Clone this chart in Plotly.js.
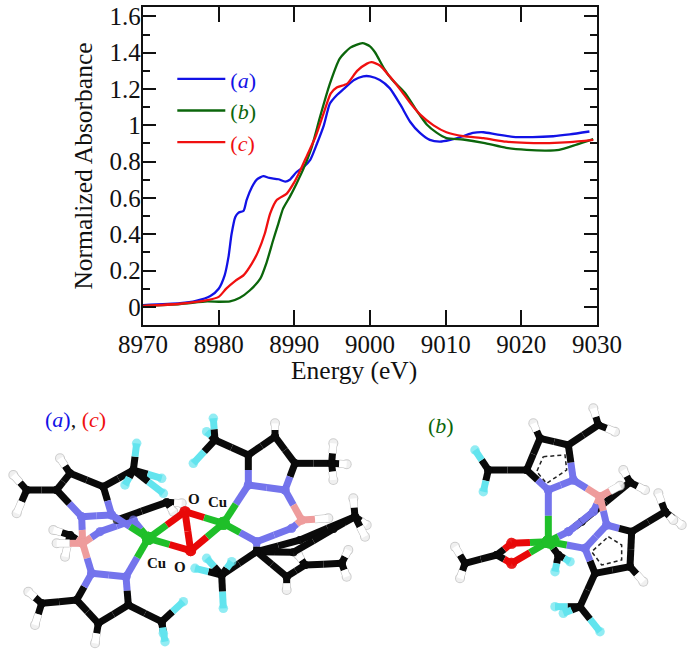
<!DOCTYPE html>
<html><head><meta charset="utf-8">
<script src="https://cdn.plot.ly/plotly-3.0.1.min.js"></script>
<style>html,body{margin:0;padding:0;background:#fff}</style></head>
<body><div id="chart" style="width:692px;height:653px"></div>
<script>
const energyA=[8970,8974.9,8977,8978.9,8980,8980.8,8981.3,8981.7,8982.2,8982.6,8983.3,8983.7,8984.4,8985,8985.9,8986.7,8987.9,8988.8,8989.4,8990.3,8991.2,8992.1,8993,8993.9,8994.7,8995.6,8996.5,8997.9,8999.1,9000,9001.3,9002.6,9004,9005.3,9006.6,9007.9,9009.2,9010.5,9012.3,9013.6,9015,9016.7,9018.9,9021.5,9024.2,9026.4,9029];
const absorbA=[0.01,0.02,0.033,0.06,0.1,0.175,0.275,0.4,0.495,0.518,0.53,0.59,0.66,0.7,0.72,0.71,0.703,0.69,0.7,0.743,0.77,0.81,0.9,1,1.12,1.166,1.2,1.25,1.27,1.27,1.25,1.205,1.115,1.02,0.958,0.92,0.91,0.918,0.94,0.958,0.962,0.95,0.937,0.935,0.94,0.95,0.966];
const energyB=[8970,8974.9,8978.5,8980,8981.5,8982.8,8984.1,8985.5,8986.3,8987.2,8987.9,8988.5,8989.4,8990.3,8991.2,8992.3,8993.4,8994.7,8996,8997.4,8999,9000,9000.7,9001.8,9002.9,9004.6,9006.2,9007.5,9008.8,9010.1,9012.3,9015,9018,9020.7,9023.3,9025,9027.3,9029.5];
const absorbB=[0.005,0.015,0.03,0.028,0.03,0.05,0.09,0.155,0.24,0.367,0.46,0.54,0.606,0.68,0.76,0.88,1.047,1.23,1.368,1.428,1.453,1.435,1.4,1.317,1.252,1.18,1.08,1.005,0.96,0.93,0.922,0.904,0.876,0.865,0.861,0.865,0.894,0.924];
const energyC=[8970,8974.9,8978.5,8980,8981,8982.2,8983.3,8984.4,8985.2,8986.1,8986.8,8987.7,8989,8989.9,8990.8,8991.7,8992.8,8994,8994.8,8995.6,8997,8998.3,8999.6,9000.2,9001.3,9002.6,9004,9005.3,9006.6,9008.4,9010.1,9012.3,9015,9018,9020.7,9023.7,9026.4,9029.5];
const absorbC=[0.005,0.017,0.037,0.055,0.1,0.143,0.175,0.24,0.303,0.404,0.514,0.59,0.624,0.68,0.753,0.836,0.937,1.083,1.175,1.208,1.23,1.3,1.34,1.348,1.33,1.27,1.197,1.124,1.06,1,0.962,0.94,0.929,0.91,0.903,0.902,0.907,0.92];
const xTicks=[8970,8980,8990,9000,9010,9020,9030];
const yTicks=[0,0.2,0.4,0.6,0.8,1,1.2,1.4,1.6];
const yTickText=['0','0.2','0.4','0.6','0.8','1','1.2','1.4','1.6'];
const seriesNames=['(<i>a</i>)','(<i>b</i>)','(<i>c</i>)'];
const seriesColors=['#1212e6','#0b660b','#f01010'];

// Molecule atoms: name -> [x, y, element]
const leftAtoms={
 a1:[80,285,'C'],a2:[170,285,'C'],a3:[210,235,'C'],a4:[310,275,'C'],a5:[335,360,'N'],a6:[245,365,'N'],
 h1:[40,240,'H'],h2:[50,355,'H'],h3:[180,190,'H'],a7:[400,225,'C'],f1:[410,145,'F'],f2:[375,270,'F'],f3:[490,295,'F'],f4:[485,250,'F'],
 b1:[248,445,'B'],h4:[170,445,'H'],n1:[300,410,'N'],n2:[400,375,'N'],c1:[500,322,'C'],c2:[350,375,'C'],h5:[545,325,'H'],h5b:[520,350,'H'],
 c3:[210,420,'C'],h6:[160,405,'H'],h7:[195,485,'H'],
 cu1:[445,430,'U'],cu2:[670,385,'U'],o1:[555,350,'O'],o2:[572,467,'O'],
 n3:[275,535,'N'],n4:[378,545,'N'],c4:[385,630,'C'],c5:[295,685,'C'],c6:[230,615,'C'],
 c7:[125,625,'C'],h8:[85,590,'H'],h9:[105,690,'H'],h10:[285,745,'H'],c8:[485,680,'C'],f5:[550,620,'F'],f6:[495,740,'F'],f7:[490,715,'F'],
 n5:[745,270,'N'],n6:[855,285,'N'],c9:[885,205,'C'],c10:[825,125,'C'],c11:[745,180,'C'],
 c12:[995,205,'C'],h11:[1000,145,'H'],h12:[1040,208,'H'],h13:[1000,255,'H'],h14:[825,85,'H'],
 c13:[645,135,'C'],f8:[640,70,'F'],f9:[580,205,'F'],f10:[620,110,'F'],
 b2:[905,375,'B'],h15:[985,370,'H'],n7:[770,440,'N'],n8:[875,400,'N'],
 c14:[900,435,'C'],c15:[1065,365,'C'],h16:[1060,310,'H'],h17:[1100,390,'H'],h18:[1095,425,'H'],
 c16:[770,470,'C'],c17:[665,540,'C'],f11:[620,490,'F'],f12:[585,520,'F'],f13:[670,640,'F'],f14:[695,500,'F'],
 c18:[860,545,'C'],c19:[915,510,'C'],c20:[1025,505,'C'],h19:[1045,465,'H'],h20:[1040,545,'H'],h21:[860,585,'H'],h22:[895,480,'H'],
 c21:[880,472,'C'],c22:[1000,402,'C']
};
const leftBonds=['c3-h6','c3-h7','c3-b1','n1-n2','n1-b1','c2-c1','c1-h5','c1-h5b','a7-f4','a7-f3','a1-a2','a1-h1','a1-h2','a2-a3','a3-h3','a3-a4','a4-a7','a7-f1','a7-f2','a4-a5','a5-a6','a6-a2','a6-b1','b1-h4','b1-n3','n3-n4','n4-c4','c4-c5','c5-c6','c6-n3','c6-c7','c7-h8','c7-h9','c5-h10','c4-c8','c8-f5','c8-f6','c8-f7','n2-cu1','a5-cu1','n4-cu1','cu1-o1','cu1-o2','o1-o2','o1-cu2','o2-cu2','f10-c13','c13-f8','c13-f9','c13-c11','c11-c10','c10-h14','c10-c9','c9-c12','c12-h11','c12-h12','c12-h13','c9-n6','n6-n5','n5-c11','n5-cu2','n6-b2','b2-h15','b2-n8','c19-c18','c18-h21','c19-c20','c20-h19','c20-h20','c19-h22','n8-n7','n7-cu2','c14-c15','c15-h16','c15-h17','c15-h18','n7-c16','c16-c14','c16-c21','c21-c22','c22-c15','c16-c18','c16-c17','c17-f11','c17-f12','c17-f13','c17-f14'];
const rightAtoms={
 a1:[445,285,'N'],a2:[520,255,'N'],a3:[505,150,'C'],a4:[420,130,'C'],a5:[380,225,'C'],
 c1:[595,90,'C'],h1:[580,40,'H'],h2:[645,110,'H'],h3:[400,85,'H'],c2:[265,225,'C'],f1:[225,165,'F'],f2:[250,290,'F'],
 b1:[600,305,'B'],h4:[660,272,'H'],c3:[690,262,'C'],h5:[670,225,'H'],h6:[735,285,'H'],c4:[545,380,'C'],
 cu:[445,440,'U'],o1:[335,445,'O'],o2:[335,505,'O'],c5:[290,480,'C'],c6:[195,505,'C'],h7:[165,455,'H'],h8:[180,550,'H'],
 n1:[505,410,'N'],n2:[580,350,'N'],n3:[555,460,'N'],n4:[620,390,'N'],
 c7:[695,410,'C'],c8:[690,515,'C'],c9:[585,535,'C'],c10:[795,350,'C'],h9:[775,295,'H'],h10:[845,390,'H'],h11:[820,375,'H'],h12:[730,560,'H'],
 c11:[540,635,'C'],f3:[465,635,'F'],f4:[600,710,'F'],f5:[490,655,'F'],c12:[475,480,'C'],f6:[465,530,'F'],f7:[510,500,'F']
};
const rightBonds=['c12-f6','c12-f7','c12-cu','c4-c3','c3-h5','c3-h6','c4-n1','n1-cu','n1-n2','n2-b1','b1-h4','a1-a2','a2-a3','a3-a4','a4-a5','a5-a1','a3-c1','c1-h1','c1-h2','a4-h3','a5-c2','c2-f1','c2-f2','a1-cu','a2-b1','b1-n4','c5-c6','c6-h7','c6-h8','c5-o1','c5-o2','o1-cu','o2-cu','n3-cu','n3-n4','n4-c7','c7-c8','c8-c9','c9-n3','c7-c10','c10-h9','c10-h10','c10-h11','c8-h12','c9-c11','c11-f3','c11-f4','c11-f5'];
// Dashed aromatic rings of the right molecule
const ringOneX=[430,495,500,440,410,430], ringOneY=[185,180,225,265,230,185];
const ringTwoX=[625,665,665,605,575,625], ringTwoY=[425,450,495,510,470,425];

const elementColors={C:'#0a0a0a',N:'#7474ec',U:'#1fbf2a',O:'#e80808',B:'#ee9c9c',F:'#62e4ee',H:'#ffffff'};
const ballSizes={C:8,N:9,U:13,O:11,B:9,F:9.5,H:8};
const traces=[];
[[energyA,absorbA],[energyB,absorbB],[energyC,absorbC]].forEach((s,i)=>traces.push({x:s[0],y:s[1],type:'scatter',mode:'lines',name:`<span style="color:${seriesColors[i]}">${seriesNames[i]}</span>`,line:{color:seriesColors[i],width:2.3,shape:'spline',smoothing:0.6}}));
function halfBond(p,mid,w,ball,color,xa,ya){
 traces.push({x:[p[0],mid[0]],y:[p[1],mid[1]],xaxis:xa,yaxis:ya,type:'scatter',mode:'lines+markers',showlegend:false,hoverinfo:'skip',line:{color:color,width:w},marker:{color:color,size:[ball,0],line:{width:0}}});
}
function drawMol(atoms,bonds,xa,ya){
 bonds.forEach(b=>{const [p,q]=b.split('-').map(k=>atoms[k]);const mid=[(p[0]+q[0])/2,(p[1]+q[1])/2];
  [p,q].forEach(a=>{if(a[2]==='H')halfBond(a,mid,8,10,'#b8b8b8',xa,ya);});
  [p,q].forEach(a=>halfBond(a,mid,7,ballSizes[a[2]],elementColors[a[2]],xa,ya));
 });
}
drawMol(leftAtoms,leftBonds,'x2','y2');
drawMol(rightAtoms,rightBonds,'x3','y3');
[[ringOneX,ringOneY],[ringTwoX,ringTwoY]].forEach(r=>traces.push({x:r[0],y:r[1],xaxis:'x3',yaxis:'y3',type:'scatter',mode:'lines',showlegend:false,hoverinfo:'skip',line:{color:'#222',width:1.5,dash:'4px,3px'}}));
const hidden=(dom,range)=>({domain:dom,range:range,visible:false,fixedrange:true});
const serif='"Liberation Serif","Times New Roman",serif';
const note=(xr,yr,x,y,t,s,bold)=>({xref:xr,yref:yr,x:x,y:y,text:bold?`<b>${t}</b>`:t,showarrow:false,font:{family:serif,size:s,color:'#111'}});
const layout={
 width:692,height:653,margin:{l:0,r:0,t:0,b:0},paper_bgcolor:'#fff',plot_bgcolor:'rgba(0,0,0,0)',
 font:{family:serif,color:'#111',size:25},
 showlegend:true,
 legend:{x:0.249,y:0.911,xanchor:'left',yanchor:'top',bgcolor:'rgba(0,0,0,0)',borderwidth:0,itemwidth:48,font:{family:serif,size:22},tracegroupgap:0},
 xaxis:{domain:[143/692,597/692],anchor:'y',range:[8970,9030],tickmode:'array',tickvals:xTicks,ticks:'inside',ticklen:15,tickwidth:2,tickcolor:'#111',mirror:'ticks',showline:true,linewidth:2.2,linecolor:'#111',showgrid:false,zeroline:false,tickfont:{size:25,family:serif},ticklabelstandoff:-4,automargin:false},
 yaxis:{domain:[1-325/653,1-7/653],anchor:'x',range:[-0.1,1.652],tickmode:'array',tickvals:yTicks,ticktext:yTickText,ticks:'inside',ticklen:13,tickwidth:2,tickcolor:'#111',mirror:'ticks',showline:true,linewidth:2.2,linecolor:'#111',showgrid:false,zeroline:false,tickfont:{size:25,family:serif},ticklabelstandoff:-5,title:{text:'Normalized Absorbance',font:{size:25.5,family:serif},standoff:10},automargin:false,
  minor:{dtick:0.1,ticks:'inside',ticklen:7,tickwidth:2,tickcolor:'#111',showgrid:false}},
 xaxis2:Object.assign(hidden([0,380/692],[0,1140]),{anchor:'y2'}),
 yaxis2:Object.assign(hidden([0,258/653],[774,0]),{anchor:'x2'}),
 xaxis3:Object.assign(hidden([400/692,1],[0,876]),{anchor:'y3'}),
 yaxis3:Object.assign(hidden([0,258/653],[774,0]),{anchor:'x3'}),
 annotations:[
  {xref:'paper',yref:'paper',x:354/692,y:1-370/653,text:'Energy (eV)',showarrow:false,font:{family:serif,size:25.5,color:'#111'}},
  note('x2','y2',225,72,`<span style="color:#1212e6">(<i>a</i>)</span>, <span style="color:#f01010">(<i>c</i>)</span>`,22),
  note('x3','y3',122,90,`<span style="color:#0b660b">(<i>b</i>)</span>`,22),
  note('x2','y2',583,312,'O',15,true),note('x2','y2',652,320,'Cu',15,true),
  note('x2','y2',468,505,'Cu',15,true),note('x2','y2',541,516,'O',15,true)
 ]
};
Plotly.newPlot('chart',traces,layout,{displayModeBar:false,staticPlot:true});
</script></body></html>
